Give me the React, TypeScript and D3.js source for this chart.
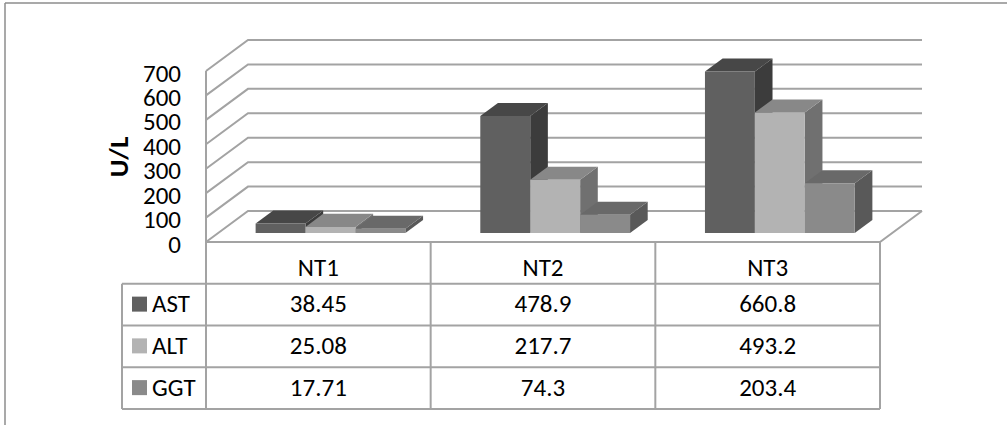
import { range, scaleBand, scaleLinear } from "d3";

const categories = ["NT1", "NT2", "NT3"];
const seriesNames = ["AST", "ALT", "GGT"];
const astValues = [38.45, 478.9, 660.8];
const altValues = [25.08, 217.7, 493.2];
const ggtValues = [17.71, 74.3, 203.4];
const tableLabels = [
  ["38.45", "478.9", "660.8"],
  ["25.08", "217.7", "493.2"],
  ["17.71", "74.3", "203.4"],
];
const yTicks = [0, 100, 200, 300, 400, 500, 600, 700];

const seriesValues = [astValues, altValues, ggtValues];
const faceColors = [
  { front: "#606060", top: "#474747", side: "#3c3c3c" },
  { front: "#b3b3b3", top: "#888888", side: "#707070" },
  { front: "#8a8a8a", top: "#696969", side: "#595959" },
];

const font = "Carlito, Calibri, Lato, sans-serif";
const gridColor = "#a3a3a3";

export default function App() {
  const width = 1007;
  const height = 425;
  const left = 206;
  const right = 880;
  const floorY = 242;
  const depthX = 42;
  const depthY = 31;
  const barDepth0 = 0.29;
  const barDepth1 = 0.71;

  // value -> vertical offset above the floor
  const h = scaleLinear().domain([0, 700]).range([0, -171]);
  const x0 = scaleBand().domain(categories).range([left, right]);
  const x1 = scaleBand().domain(seriesNames).range([0, x0.bandwidth()]).paddingOuter(0.75);
  const rows = scaleBand().domain(["head", ...seriesNames]).range([floorY, 409]);

  const pt = (x: number, off: number, d: number) => [x + d * depthX, floorY + off - d * depthY];
  const poly = (pts: number[][]) => pts.map((p) => p.join(",")).join(" ");

  return (
    <svg
      width={width}
      height={height}
      style={{ position: "absolute", left: 0, top: 0, fontFamily: font }}
    >
      <rect width={width} height={height} fill="#ffffff" />
      {/* outer frame */}
      <line x1={5} x2={5} y1={3} y2={height} stroke="#8c8c8c" strokeWidth={1.5} />
      <line x1={5} x2={width} y1={3} y2={3} stroke="#8c8c8c" strokeWidth={1.5} />

      {/* walls and gridlines */}
      {yTicks.map((t) => {
        const a = pt(left, h(t), 0);
        const b = pt(left, h(t), 1);
        const c = pt(right, h(t), 1);
        return (
          <polyline
            key={t}
            points={poly([a, b, c])}
            fill="none"
            stroke={gridColor}
            strokeWidth={2}
          />
        );
      })}
      <polyline
        points={poly([pt(left, 0, 0), pt(right, 0, 0), pt(right, 0, 1)])}
        fill="none"
        stroke={gridColor}
        strokeWidth={2}
      />
      <line x1={left} x2={left} y1={floorY + h(700)} y2={409} stroke={gridColor} strokeWidth={2} />

      {yTicks.map((t) => (
        <text
          key={t}
          x={181}
          y={floorY + h(t)}
          dy="0.42em"
          textAnchor="end"
          fontSize={25}
          fill="#000"
        >
          {t}
        </text>
      ))}
      <text
        transform={`translate(118,157) rotate(-90)`}
        textAnchor="middle"
        dy="0.36em"
        fontSize={27}
        fontWeight="bold"
        fill="#000"
      >
        U/L
      </text>

      {/* bars */}
      {categories.map((cat, ci) => (
        <g key={cat}>
          {seriesNames.map((s, si) => {
            const v = seriesValues[si][ci];
            const xa = (x0(cat) ?? 0) + (x1(s) ?? 0);
            const xb = xa + x1.bandwidth();
            const top = h(v);
            const col = faceColors[si];
            const fTL = pt(xa, top, barDepth0);
            const fTR = pt(xb, top, barDepth0);
            const fBR = pt(xb, 0, barDepth0);
            const fBL = pt(xa, 0, barDepth0);
            const bTL = pt(xa, top, barDepth1);
            const bTR = pt(xb, top, barDepth1);
            const bBR = pt(xb, 0, barDepth1);
            return (
              <g key={s}>
                <polygon points={poly([fTR, bTR, bBR, fBR])} fill={col.side} />
                <polygon points={poly([fTL, bTL, bTR, fTR])} fill={col.top} />
                <polygon points={poly([fTL, fTR, fBR, fBL])} fill={col.front} />
              </g>
            );
          })}
        </g>
      ))}

      {/* data table */}
      {categories.map((cat) => (
        <line
          key={cat}
          x1={(x0(cat) ?? 0) + x0.bandwidth()}
          x2={(x0(cat) ?? 0) + x0.bandwidth()}
          y1={floorY}
          y2={409}
          stroke={gridColor}
          strokeWidth={2}
        />
      ))}
      {seriesNames.map((s) => (
        <line
          key={s}
          x1={122}
          x2={right}
          y1={rows(s) ?? 0}
          y2={rows(s) ?? 0}
          stroke={gridColor}
          strokeWidth={2}
        />
      ))}
      <line x1={122} x2={right} y1={409} y2={409} stroke={gridColor} strokeWidth={2} />
      <line x1={122} x2={122} y1={rows("AST") ?? 0} y2={409} stroke={gridColor} strokeWidth={2} />

      {categories.map((cat) => (
        <text
          key={cat}
          x={(x0(cat) ?? 0) + x0.bandwidth() / 2}
          y={(rows("head") ?? 0) + rows.bandwidth() / 2 + 5}
          dy="0.34em"
          textAnchor="middle"
          fontSize={25}
          fill="#000"
        >
          {cat}
        </text>
      ))}
      {seriesNames.map((s, si) => {
        const cy = (rows(s) ?? 0) + rows.bandwidth() / 2;
        return (
          <g key={s}>
            <rect x={132} y={cy - 8} width={15} height={15} fill={faceColors[si].front} />
            <text x={152} y={cy} dy="0.3em" fontSize={25} fill="#000">
              {s}
            </text>
            {range(categories.length).map((ci) => (
              <text
                key={ci}
                x={(x0(categories[ci]) ?? 0) + x0.bandwidth() / 2}
                y={cy}
                dy="0.3em"
                textAnchor="middle"
                fontSize={25}
                fill="#000"
              >
                {tableLabels[si][ci]}
              </text>
            ))}
          </g>
        );
      })}
    </svg>
  );
}
